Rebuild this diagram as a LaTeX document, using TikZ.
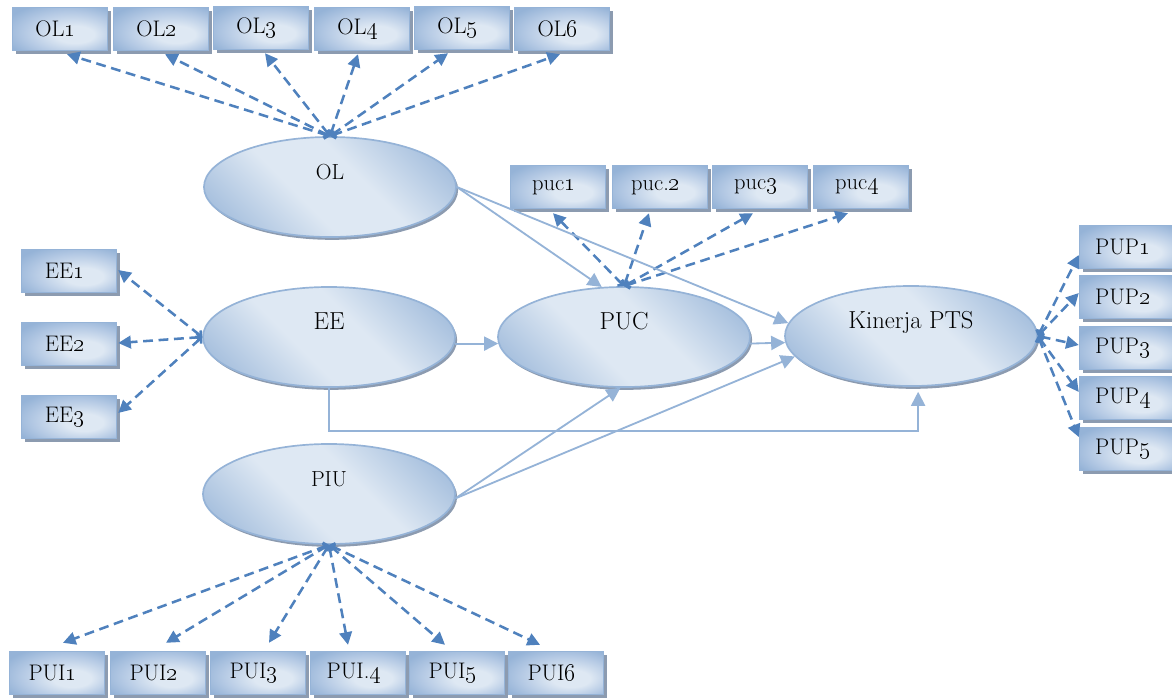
\documentclass[tikz,border=0pt]{standalone}
\usepackage{tikz}
\usetikzlibrary{arrows.meta,calc,shadows,shapes.geometric}
\definecolor{bdark}{RGB}{149,179,215}
\definecolor{bmid}{RGB}{180,201,228}
\definecolor{blight}{RGB}{222,232,243}
\definecolor{bline}{RGB}{79,129,189}
\definecolor{bshadow}{RGB}{140,155,176}
\pgfdeclareradialshading{boxglow}{\pgfpoint{10bp}{-8bp}}{color(0bp)=(blight); color(10bp)=(blight); color(24bp)=(bmid); color(34bp)=(bdark); color(50bp)=(bdark)}
\pgfdeclarehorizontalshading{mirrorsoft}{100bp}{color(0bp)=(bdark); color(16bp)=(bdark); color(42bp)=(blight); color(58bp)=(blight); color(84bp)=(bdark); color(100bp)=(bdark)}
\newcommand{\osn}[1]{\oldstylenums{#1}}
\tikzset{
  ind/.style={draw=bdark, line width=1pt, shading=boxglow,
    minimum width=2.375cm, minimum height=1.075cm, inner sep=0pt,
    font=\fontsize{16}{18}\selectfont, execute at end node={\kern6pt},
    drop shadow={shadow xshift=2.2pt, shadow yshift=-2.2pt, fill=bshadow, opacity=1}},
  lat/.style={ellipse, draw=bdark, line width=1.2pt, shading=mirrorsoft, shading angle=45,
    minimum width=6.3cm, minimum height=2.5cm, inner sep=0pt,
    text height=0.35cm, text depth=0.75cm, font=\fontsize{17.5}{20}\selectfont,
    drop shadow={shadow xshift=1.5pt, shadow yshift=-2pt, fill=bshadow, opacity=1}},
  latsmall/.style={font=\fontsize{15.5}{18}\selectfont},
  loading/.style={bline, line width=1.8pt, dash pattern=on 7pt off 4pt,
    {Straight Barb[length=2.5pt,width=6pt]}-{Triangle[length=9pt,width=9pt]}},
  effect/.style={bdark, line width=1.3pt, -{Triangle[length=10pt,width=10pt]}}
}
\begin{document}
\begin{tikzpicture}[x=0.025cm,y=-0.025cm]
\useasboundingbox (0,0) rectangle (1172,698);
% latent variables
\node[lat,latsmall] (OL) at (330,187) {OL};
\node[lat] (EE) at (329,337) {EE};
\node[lat] (PUC) at (624,337) {PUC};
\node[lat] (Kinerja) at (911,336) {Kinerja PTS};
\node[lat,latsmall] (PIU) at (329,494) {PIU};
% indicators
\node[ind] (OL1) at (60,29) {OL\osn{1}};
\node[ind] (OL2) at (161,29) {OL\osn{2}};
\node[ind] (OL3) at (261,28) {OL\osn{3}};
\node[ind] (OL4) at (362,29) {OL\osn{4}};
\node[ind] (OL5) at (462,28) {OL\osn{5}};
\node[ind] (OL6) at (562,29) {OL\osn{6}};
\node[ind] (puc1) at (558,187) {puc\osn{1}};
\node[ind] (puc2) at (660,187) {puc.\osn{2}};
\node[ind] (puc3) at (760,187) {puc\osn{3}};
\node[ind] (puc4) at (861,187) {puc\osn{4}};
\node[ind] (EE1) at (69,271) {EE\osn{1}};
\node[ind] (EE2) at (69,344) {EE\osn{2}};
\node[ind] (EE3) at (69,417) {EE\osn{3}};
\node[ind] (PUP1) at (1127,247) {PUP\osn{1}};
\node[ind] (PUP2) at (1127,297) {PUP\osn{2}};
\node[ind] (PUP3) at (1127,348) {PUP\osn{3}};
\node[ind] (PUP4) at (1127,398) {PUP\osn{4}};
\node[ind] (PUP5) at (1127,449) {PUP\osn{5}};
\node[ind] (PUI1) at (57,673) {PUI\osn{1}};
\node[ind] (PUI2) at (158,673) {PUI\osn{2}};
\node[ind] (PUI3) at (258,673) {PUI\osn{3}};
\node[ind] (PUI4) at (358,673) {PUI.\osn{4}};
\node[ind] (PUI5) at (457,673) {PUI\osn{5}};
\node[ind] (PUI6) at (556,673) {PUI\osn{6}};
% loadings
\draw[loading] (OL.north) -- ($(OL1.south)+(7,3)$);
\draw[loading] (OL.north) -- ($(OL2.south)+(4,3)$);
\draw[loading] (OL.north) -- ($(OL3.south)+(4,3)$);
\draw[loading] (OL.north) -- ($(OL4.south)+(-4,3)$);
\draw[loading] (OL.north) -- ($(OL5.south)+(-14,3)$);
\draw[loading] (OL.north) -- ($(OL6.south)+(-2,3)$);
\draw[loading] (PUC.north) -- ($(puc1.south)+(-5,4)$);
\draw[loading] (PUC.north) -- ($(puc2.south)+(-11,4)$);
\draw[loading] (PUC.north) -- ($(puc3.south)+(-7,4)$);
\draw[loading] (PUC.north) -- ($(puc4.south)+(-13,4)$);
\draw[loading] (EE.west) -- ($(EE1.east)+(1,-1)$);
\draw[loading] (EE.west) -- ($(EE2.east)+(1,-1)$);
\draw[loading] (EE.west) -- ($(EE3.east)+(1,-4)$);
\draw[loading] (Kinerja.east) -- ($(PUP1.west)+(0,8)$);
\draw[loading] (Kinerja.east) -- ($(PUP2.west)+(0,-4)$);
\draw[loading] (Kinerja.east) -- ($(PUP3.west)+(0,-3)$);
\draw[loading] (Kinerja.east) -- ($(PUP4.west)+(0,-6)$);
\draw[loading] (Kinerja.east) -- ($(PUP5.west)+(0,-12)$);
\draw[loading] (PIU.south) -- ($(PUI1.north)+(6,-8)$);
\draw[loading] (PIU.south) -- ($(PUI2.north)+(8,-8)$);
\draw[loading] (PIU.south) -- ($(PUI3.north)+(11,-8)$);
\draw[loading] (PIU.south) -- ($(PUI4.north)+(-10,-6)$);
\draw[loading] (PIU.south) -- ($(PUI5.north)+(-12,-6)$);
\draw[loading] (PIU.south) -- ($(PUI6.north)+(-16,-6)$);
% structural paths
\draw[effect] (OL.east) -- (PUC.114);
\draw[effect] (OL.east) -- (Kinerja.174);
\draw[effect] (EE.-3) -- (PUC.183);
\draw[effect] (PUC.-3) -- (Kinerja.183);
\draw[effect] (PIU.-2) -- (PUC.266);
\draw[effect] (PIU.-2) -- (Kinerja.190);
\draw[effect] (EE.south) -- ++(0,43) coordinate (bend) -| ($(Kinerja.-82)+(0,5)$);
\end{tikzpicture}
\end{document}
